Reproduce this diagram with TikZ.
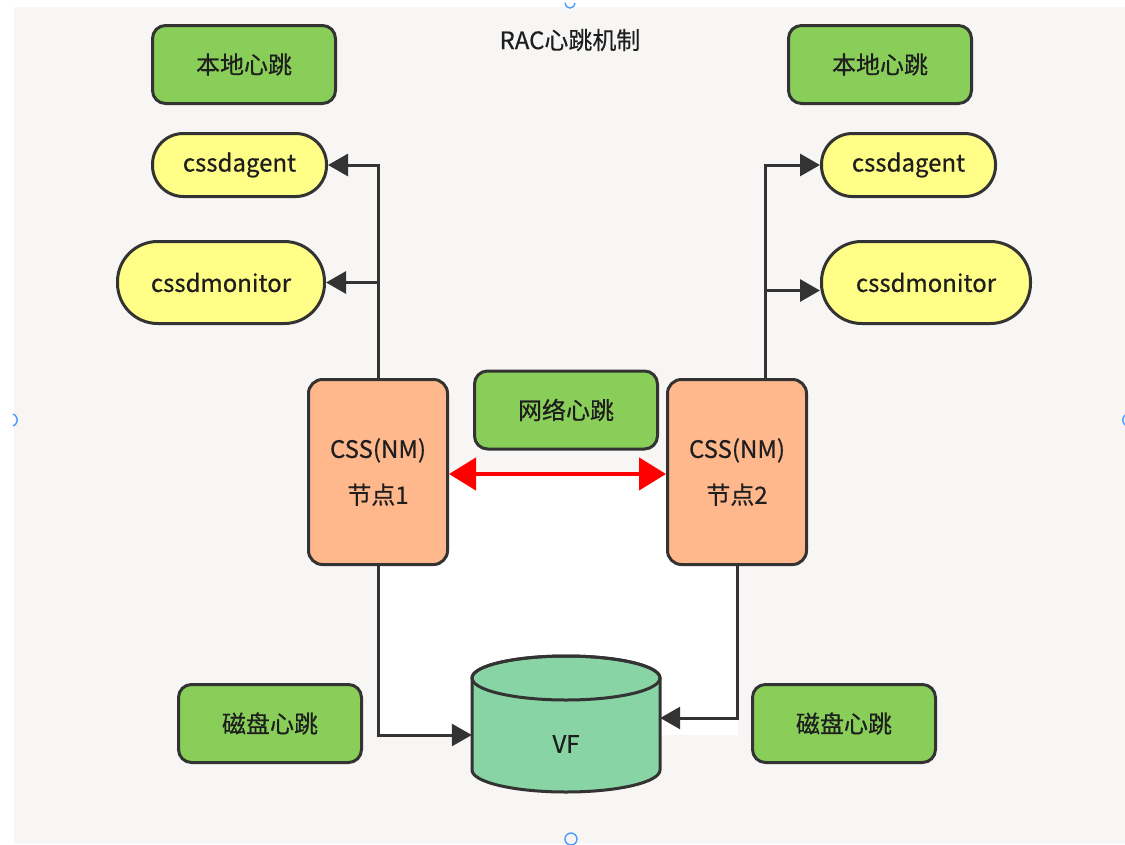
\documentclass[tikz,border=0pt]{standalone}
\usepackage{fontspec}
\setmainfont{Noto Sans CJK SC}[FakeBold=0.5]
\usetikzlibrary{arrows.meta,calc}
\definecolor{bg}{HTML}{F7F6F5}
\definecolor{edge}{HTML}{333333}
\definecolor{beat}{HTML}{88CE58}
\definecolor{proc}{HTML}{FFFF88}
\definecolor{nodefill}{HTML}{FFB78C}
\definecolor{disk}{HTML}{88D4A4}
\definecolor{handle}{HTML}{4C9BFF}
\definecolor{ink}{HTML}{1E1E1E}

\begin{document}
\begin{tikzpicture}[x=1pt,y=-1pt,
  base/.style={draw=edge, line width=3pt, inner sep=0pt, text=ink,
    font=\fontsize{24}{28}\selectfont},
  beatbox/.style={base, fill=beat, rounded corners=13pt,
    minimum width=183pt, minimum height=78pt},
  pill/.style={base, fill=proc, minimum height=#1, rounded corners=0.49*#1},
  cssbox/.style={base, fill=nodefill, rounded corners=14pt,
    minimum width=139pt, minimum height=185pt, align=center,
    font=\fontsize{24}{46}\selectfont},
  conn/.style={draw=edge, line width=3pt,
    -{Triangle[length=20pt,width=22pt]}},
  hb/.style={draw=red, line width=4.5pt,
    {Triangle[length=27pt,width=32pt]}-{Triangle[length=27pt,width=32pt]}},
  grip/.style={draw=handle, line width=1.4pt}
]
% canvas
\useasboundingbox (0,0) rectangle (1125,844);
\fill[white] (0,0) rectangle (1125,844);
\fill[bg] (14,7) rectangle (1125,844);
\fill[white] (378,475) rectangle (738,735);

% title
\node[text=ink, font=\fontsize{24}{28}\selectfont] (title) at (570,40) {RAC心跳机制};

% local heartbeat, left side
\node[beatbox] (localL) at (244,64.5) {本地心跳};
\node[pill=63pt, minimum width=174pt] (agentL) at (239.5,165) {cssdagent};
\node[pill=82pt, minimum width=207pt] (monL) at (221,282.5) {cssdmonitor};

% local heartbeat, right side
\node[beatbox] (localR) at (880,64.5) {本地心跳};
\node[pill=63pt, minimum width=174pt] (agentR) at (908.5,165) {cssdagent};
\node[pill=82pt, minimum width=209pt] (monR) at (926,282.5) {cssdmonitor};

% cluster nodes and network heartbeat
\node[cssbox] (css1) at (378,472) {CSS(NM)\\节点1};
\node[cssbox] (css2) at (737,472) {CSS(NM)\\节点2};
\node[beatbox] (net) at (566,410) {网络心跳};

% voting file (cylinder)
\node[minimum width=188pt, minimum height=137pt, inner sep=0pt] (vf) at (566,723.5) {};
\filldraw[fill=disk, draw=edge, line width=3pt]
  (472,678) -- (472,770) arc[start angle=180, end angle=0, x radius=94, y radius=22]
  -- (660,678) arc[start angle=0, end angle=-180, x radius=94, y radius=22] -- cycle;
\draw[edge, line width=3pt] (566,678) ellipse[x radius=94, y radius=22];
\node[text=ink, font=\fontsize{24}{28}\selectfont] (vflabel) at (566,744) {VF};

% disk heartbeat labels
\node[beatbox] (diskL) at (270,723.5) {磁盘心跳};
\node[beatbox] (diskR) at (844,723.5) {磁盘心跳};

% node 1 connectors
\draw[conn] (css1.north) -- (css1.north |- agentL.east) -- (agentL.east);
\draw[conn] (css1.north |- monL.east) -- (monL.east);
\draw[conn] (css1.south) -- ($(css1.south |- vf.west)+(0,11.5)$) -- ($(vf.west)+(0,11.5)$);

% node 2 connectors
\coordinate (up2) at ($(css2.north)+(28,0)$);
\draw[conn] (up2) -- (up2 |- agentR.west) -- (agentR.west);
\draw[conn] ($(up2 |- monR.west)+(0,8)$) -- ($(monR.west)+(0,8)$);
\draw[conn] (css2.south) -- ($(css2.south |- vf.east)+(0,-5.5)$) -- ($(vf.east)+(0,-5.5)$);

% network heartbeat link
\draw[hb] ($(css1.east)+(0,2)$) -- ($(css2.west)+(0,2)$);

% selection grips
\draw[grip] (565,3) arc[start angle=180, end angle=0, radius=5];
\draw[grip] (571,839) circle (6);
\draw[grip] (13,414) arc[start angle=-70, end angle=70, radius=6.4];
\draw[grip] (1127,414) arc[start angle=-110, end angle=-250, radius=6.4];
\end{tikzpicture}
\end{document}
